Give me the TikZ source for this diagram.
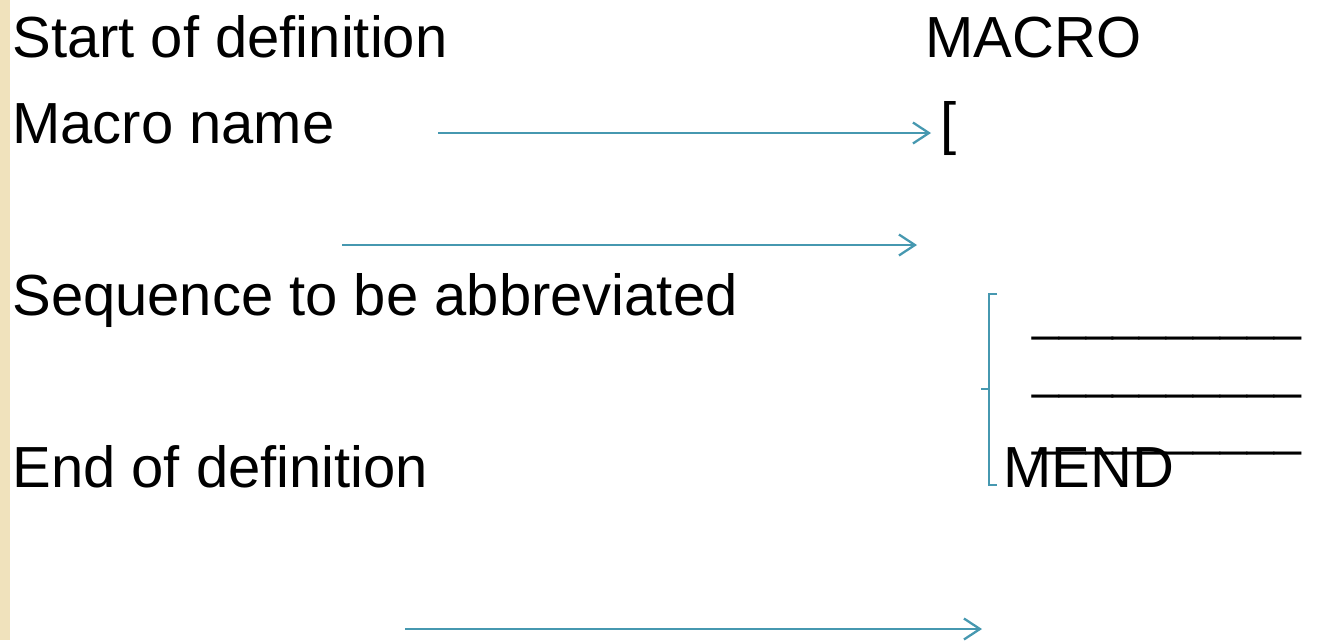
\documentclass[tikz,border=0pt]{standalone}
\usepackage{fontspec}
\setmainfont{Liberation Sans}
\usetikzlibrary{arrows.meta}
\definecolor{teal}{RGB}{70,152,176}
\definecolor{paper}{RGB}{240,226,188}
\tikzset{lbl/.style={anchor=base west,inner sep=0pt,font=\fontsize{33}{40}\selectfont},
  ulbl/.style={anchor=base west,inner sep=0pt,font=\fontsize{27.5}{33}\selectfont},
  arr/.style={teal,line width=1.3pt,-{Straight Barb[length=0.32cm,width=0.42cm]}}}
\begin{document}
\begin{tikzpicture}[x=0.02cm,y=-0.02cm]
        \useasboundingbox (0,0) rectangle (1338,640);
        \fill[paper] (0,0) rectangle (10,640);
        \node[lbl] (start) at (12,57) {Start of definition};
        \node[lbl] (name) at (12,143) {Macro name};
        \node[lbl] (seq) at (12,315) {Sequence to be abbreviated};
        \node[lbl] (end) at (12,487) {End of definition};
        \node[lbl] (macro) at (925,57) {MACRO};
        \node[lbl] (brk) at (940,143) {[};
        \node[lbl] (mend) at (1003,487) {MEND};
        \node[ulbl] (u1) at (1032,330) {\_\_\_\_\_\_\_\_\_\_};
        \node[ulbl] (u2) at (1032,388) {\_\_\_\_\_\_\_\_\_\_};
        \node[ulbl] (u3) at (1032,445) {\_\_\_\_\_\_\_\_\_\_};
        \coordinate (a1) at (438,133);\coordinate (b1) at (931,133);
        \coordinate (a2) at (342,245);\coordinate (b2) at (917,245);
        \coordinate (a3) at (405,629);\coordinate (b3) at (982,629);
        \draw[arr] (a1) -- (b1);
        \draw[arr] (a2) -- (b2);
        \draw[arr] (a3) -- (b3);
        \draw[teal,line width=1.3pt] (997,294) -- (989,294) -- (989,389) -- (981,389) (989,389) -- (989,485) -- (997,485);
    \end{tikzpicture}
\end{document}
